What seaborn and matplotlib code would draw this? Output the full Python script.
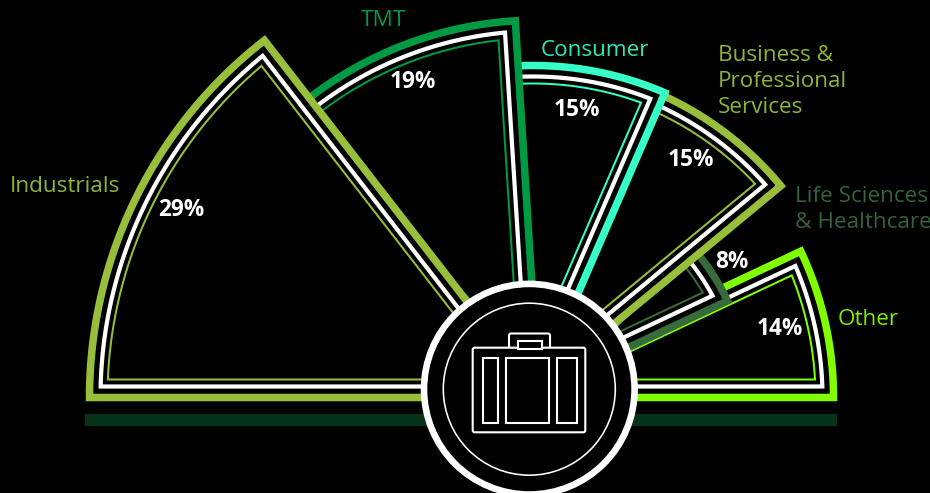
import numpy as np
import matplotlib
matplotlib.use("Agg")
import matplotlib.pyplot as plt
from matplotlib.patches import Polygon, Circle, Rectangle, FancyBboxPatch
import seaborn as sns

# ---- data -------------------------------------------------------------
sectors = ["Industrials", "TMT", "Consumer", "Business &\nProfessional\nServices",
           "Life Sciences\n& Healthcare", "Other"]
shares = [29, 19, 15, 15, 8, 14]
share_labels = ["29%", "19%", "15%", "15%", "8%", "14%"]
radii = [452, 377.5, 332, 332, 227, 343.5]
apex_x = [541.5, 539, 533, 525, 522, 490]
colors = ["#98BF3C", "#009A44", "#36FFC8", "#98BF3C", "#386B3B", "#80FF00"]
label_colors = ["#8DB535", "#009A44", "#2CE8B6", "#8DB535", "#33633A", "#7BEF05"]
label_pos = [(10, 187), (361, 20.5), (541, 50.5), (718, 81.5), (795, 209.5), (838, 319.5)]
share_pos = [(181, 210), (413, 82), (577, 110), (691, 160), (732, 262), (780, 329)]

sns.set_theme(style="dark", rc={"figure.facecolor": "black", "axes.facecolor": "black"})
plt.rcParams["font.family"] = ["Open Sans", "DejaVu Sans"]
palette = sns.color_palette(colors)

fig = plt.figure(figsize=(9.3, 4.93), dpi=100)
ax = fig.add_axes([0, 0, 1, 1])
ax.set_xlim(0, 930)
ax.set_ylim(493, 0)
ax.set_axis_off()

APEX_Y = 397.5
PX = 0.72  # points per pixel at 100 dpi
spans = np.array(shares) * 1.8
hi = 180 - np.concatenate([[0], np.cumsum(spans)[:-1]])
lo = hi - spans


def outline(cx, r, t1, t2, d):
    """Wedge from t1 to t2 degrees, pulled in by d pixels on every side."""
    span = np.radians(t2 - t1)
    mid = np.radians((t1 + t2) / 2)
    reach = d / np.sin(span / 2)
    inner = r - d
    pull = np.degrees(np.arcsin(d / inner))
    th = np.radians(np.linspace(t1 + pull, t2 - pull, 120))
    xs = np.r_[cx + reach * np.cos(mid), cx + inner * np.cos(th)]
    ys = np.r_[APEX_Y - reach * np.sin(mid), APEX_Y - inner * np.sin(th)]
    return np.column_stack([xs, ys])


ax.add_patch(Rectangle((85, 414), 752, 12, facecolor="#06341A", edgecolor="none", zorder=1))

n = len(shares)
for i in reversed(range(n)):
    z = 10 + (n - i) * 5
    t2 = hi[i] + (6 if 0 < i < n - 1 else 0)
    t1 = lo[i]
    ax.add_patch(Polygon(outline(apex_x[i], radii[i], t1, t2, 0), closed=True,
                         facecolor="black", edgecolor=palette[i], lw=7.5 * PX,
                         joinstyle="miter", zorder=z))
    ax.add_patch(Polygon(outline(apex_x[i], radii[i], t1, t2, 11), closed=True,
                         fill=False, edgecolor="white", lw=4.2 * PX,
                         joinstyle="miter", zorder=z + 1))
    ax.add_patch(Polygon(outline(apex_x[i], radii[i], t1, t2, 18), closed=True,
                         fill=False, edgecolor=palette[i], lw=2.0 * PX,
                         joinstyle="miter", zorder=z + 2))

CX, CY = 529.3, 389.2
ax.add_patch(Circle((CX, CY), 105.3, facecolor="black", edgecolor="white", lw=6.6 * PX, zorder=60))
ax.add_patch(Circle((CX, CY), 86, fill=False, edgecolor="white", lw=1.6 * PX, zorder=61))

# briefcase icon
ICON_LW = 2.1 * PX
icon = dict(fill=False, edgecolor="white", lw=ICON_LW, zorder=62)
ax.add_patch(FancyBboxPatch((511, 335.5), 37, 24, boxstyle="round,pad=2,rounding_size=2", **icon))
ax.add_patch(FancyBboxPatch((474.7, 349.7), 108.6, 80.6,
                            boxstyle="round,pad=2,rounding_size=2",
                            facecolor="black", edgecolor="white", lw=ICON_LW, zorder=62.5))
ax.add_patch(Rectangle((517.7, 340.7), 24.6, 8.3, facecolor="black", edgecolor="white",
                       lw=ICON_LW, zorder=63))
ax.add_patch(Rectangle((482.7, 358.3), 15, 64.4, fill=False, edgecolor="white", lw=ICON_LW, zorder=63))
ax.add_patch(Rectangle((506, 358.3), 42.7, 64.4, fill=False, edgecolor="white", lw=ICON_LW, zorder=63))
ax.add_patch(Rectangle((557, 358.3), 20, 64.4, fill=False, edgecolor="white", lw=ICON_LW, zorder=63))

for name, c, (x, y) in zip(sectors, label_colors, label_pos):
    ax.text(x, y, name, color=c, fontsize=16.2, ha="left", va="center",
            linespacing=1.34, zorder=70)
for s, (x, y) in zip(share_labels, share_pos):
    ax.text(x, y, s, color="white", fontsize=16.3, fontweight="bold",
            ha="center", va="center", zorder=70)

fig.savefig("out.png", dpi=100, facecolor="black")
